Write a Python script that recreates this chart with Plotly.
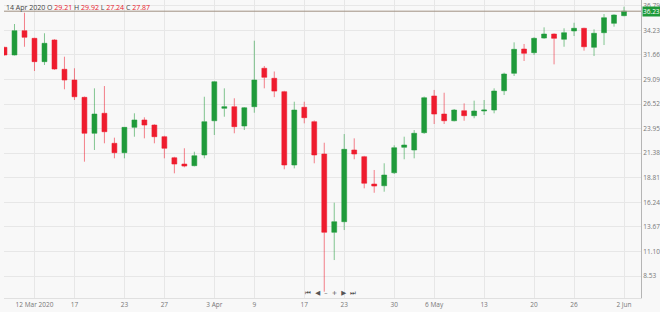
import plotly.graph_objects as go

dates = ["2020-03-09","2020-03-10","2020-03-11","2020-03-12","2020-03-13","2020-03-15","2020-03-16",
         "2020-03-17","2020-03-18","2020-03-19","2020-03-20","2020-03-22","2020-03-23","2020-03-24",
         "2020-03-25","2020-03-26","2020-03-27","2020-03-30","2020-03-31","2020-04-01","2020-04-02",
         "2020-04-03","2020-04-06","2020-04-07","2020-04-08","2020-04-09","2020-04-13","2020-04-14",
         "2020-04-15","2020-04-16","2020-04-17","2020-04-20","2020-04-21","2020-04-22","2020-04-23",
         "2020-04-24","2020-04-27","2020-04-28","2020-04-29","2020-04-30","2020-05-01","2020-05-04",
         "2020-05-05","2020-05-06","2020-05-07","2020-05-08","2020-05-11","2020-05-12","2020-05-13",
         "2020-05-14","2020-05-15","2020-05-18","2020-05-19","2020-05-20","2020-05-21","2020-05-22",
         "2020-05-25","2020-05-26","2020-05-27","2020-05-28","2020-05-29","2020-06-01","2020-06-02"]

opens = [32.45,31.65,34.19,33.39,30.95,33.22,30.15,29.03,27.22,23.46,25.55,22.41,21.43,24.08,
         24.85,24.32,23.10,20.90,20.24,20.07,21.19,24.77,26.07,26.24,24.22,26.24,30.26,29.21,
         27.81,20.14,26.18,24.67,21.29,13.10,14.21,21.71,21.01,18.15,17.97,19.33,21.99,21.71,
         23.52,27.36,25.47,24.77,25.82,25.30,25.79,25.89,27.91,29.73,32.27,31.89,33.42,33.84,
         33.29,34.16,34.44,32.45,33.98,34.96,35.76]
highs = [32.50,34.89,36.07,33.45,33.92,33.30,31.47,30.26,27.30,28.16,28.40,23.00,24.10,25.55,
         25.13,24.40,23.20,21.00,21.89,21.53,27.28,28.90,28.16,27.12,26.20,33.14,30.50,29.92,
         27.90,26.76,26.76,24.80,22.47,16.20,23.38,22.93,21.10,19.62,20.32,22.20,23.10,23.80,
         27.30,27.99,27.70,26.00,26.59,26.87,26.94,28.16,29.80,32.97,32.80,33.50,34.54,33.90,
         34.44,35.02,34.50,34.33,35.93,35.90,36.70]
lows = [31.60,31.60,32.51,29.97,30.60,30.10,28.06,26.94,20.49,21.71,22.41,20.84,20.84,23.10,
        22.93,22.41,20.84,19.27,19.90,20.00,20.84,23.28,25.19,23.46,23.80,25.61,28.16,27.24,
        19.69,19.79,24.50,20.32,6.89,10.20,13.34,20.74,17.70,17.24,17.35,19.20,20.74,20.84,
        23.40,24.43,24.43,24.70,24.77,25.03,25.37,25.55,27.46,29.45,31.02,31.65,33.35,30.67,
        32.51,33.63,32.10,31.54,32.69,34.61,35.70]
closes = [31.65,34.19,33.50,30.95,32.87,30.18,29.03,27.28,23.46,25.47,23.62,21.43,24.08,24.85,
          24.32,23.10,21.89,20.24,20.03,21.11,24.67,28.85,26.24,24.15,26.13,29.03,29.31,27.87,
          20.14,25.89,25.09,21.19,13.10,14.21,21.78,21.29,18.23,17.94,19.09,21.95,22.23,23.46,
          27.18,25.47,24.77,25.89,25.30,25.79,25.89,27.88,29.66,32.24,31.82,33.39,33.84,33.39,
          33.98,34.44,32.51,33.92,35.55,35.83,36.23]

y_ticks = [8.53, 11.10, 13.67, 16.24, 18.81, 21.38, 23.95, 26.52, 29.09, 31.66, 34.23, 36.79]
x_tick_dates = ["2020-03-12","2020-03-17","2020-03-23","2020-03-27","2020-04-03","2020-04-09",
                "2020-04-17","2020-04-23","2020-04-30","2020-05-06","2020-05-13","2020-05-20",
                "2020-05-26","2020-06-02"]
x_tick_text = ["12 Mar 2020","17","23","27","3 Apr","9","17","23","30","6 May","13","20","26","2 Jun"]

last_price = closes[-1]
hover_day = "14 Apr 2020"
hover_o, hover_h, hover_l, hover_c = 29.21, 29.92, 27.24, 27.87

GREEN = "#1f9a3a"
RED = "#ee1c2e"
BG = "#f8f8f8"
GRID = "#e7e7e7"

fig = go.Figure()
fig.add_trace(go.Candlestick(
    x=dates, open=opens, high=highs, low=lows, close=closes,
    increasing=dict(line=dict(color="rgba(31,154,58,0.55)", width=1), fillcolor=GREEN),
    decreasing=dict(line=dict(color="rgba(238,28,46,0.55)", width=1), fillcolor=RED),
    showlegend=False, hoverinfo="none",
))

fig.add_shape(type="line", xref="paper", x0=0, x1=1, yref="y", y0=last_price, y1=last_price,
              line=dict(color="#a09082", width=1))

hdr_red = "#e8192c"
header = (f"<span style='color:#444'>{hover_day}</span> <span style='color:#444'>O</span> "
          f"<span style='color:{hdr_red}'>{hover_o:.2f}</span> <span style='color:#444'>H</span> "
          f"<span style='color:{hdr_red}'>{hover_h:.2f}</span> <span style='color:#444'>L</span> "
          f"<span style='color:{hdr_red}'>{hover_l:.2f}</span> <span style='color:#444'>C</span> "
          f"<span style='color:{hdr_red}'>{hover_c:.2f}</span>")
fig.add_annotation(xref="paper", yref="paper", x=0.0, y=1.0, xanchor="left", yanchor="top",
                   yshift=-1, text=header, showarrow=False,
                   font=dict(family="Open Sans", size=7, color="#444"))

fig.add_annotation(xref="paper", yref="y", x=1.0, y=last_price, xanchor="left", yanchor="middle",
                   text=f"{last_price:.2f}", showarrow=False, bgcolor=GREEN, borderpad=0,
                   xshift=1, font=dict(family="Open Sans", size=6.5, color="white"))

fig.add_annotation(xref="paper", yref="paper", x=0.513, y=0.018, xanchor="center", yanchor="middle",
                   text="⏮ &nbsp;◀ &nbsp;– &nbsp;+ &nbsp;▶ &nbsp;⏭", showarrow=False,
                   font=dict(family="DejaVu Sans", size=6.5, color="#555"))

fig.update_layout(
    width=660, height=312,
    margin=dict(l=4, r=19, t=0, b=14),
    paper_bgcolor=BG, plot_bgcolor=BG,
    font=dict(family="Open Sans", size=6.5, color="#777"),
    xaxis=dict(type="category", range=[-0.05, 63.7], rangeslider=dict(visible=False),
               tickmode="array", tickvals=x_tick_dates, ticktext=x_tick_text,
               showgrid=True, gridcolor=GRID, gridwidth=1, showline=True, linecolor="#e0e0e0",
               ticks="", tickfont=dict(size=6.5, color="#777"), fixedrange=True),
    yaxis=dict(side="right", range=[6.23, 37.40], tickmode="array", tickvals=y_ticks,
               ticktext=[f"{v:.2f}" for v in y_ticks], showgrid=True, gridcolor=GRID,
               showline=True, linecolor="#b5b5b5", ticks="", zeroline=False,
               ticklabelstandoff=0,
               tickfont=dict(size=6.5, color="#777")),
)

fig.write_html("out.html")
